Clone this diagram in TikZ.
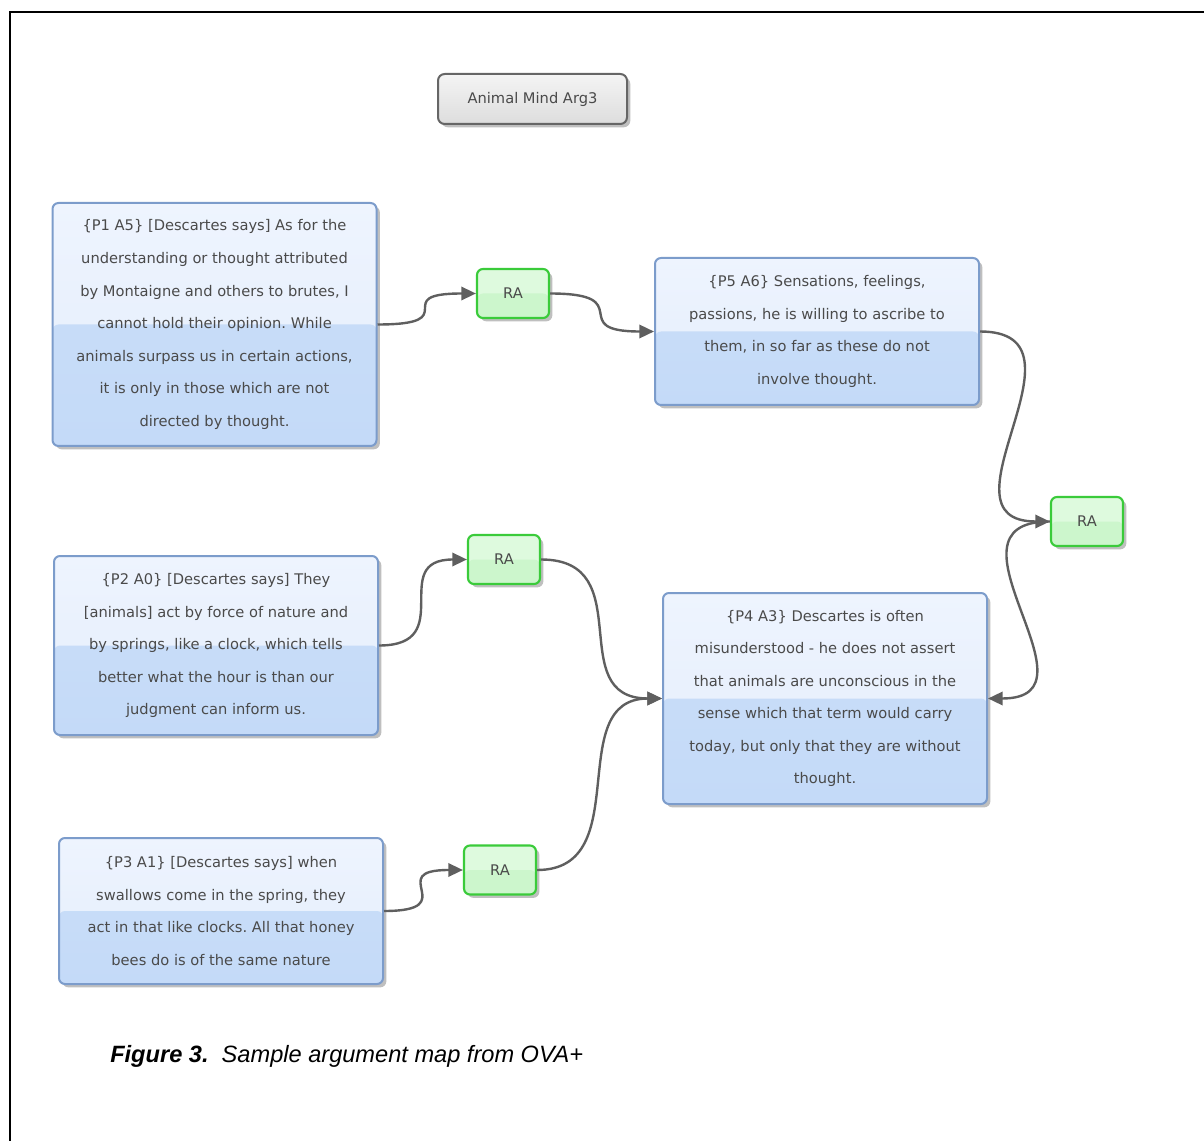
\documentclass[tikz,border=0pt]{standalone}
\usepackage{fontspec}
\usepackage{tikz}
\usetikzlibrary{
  positioning,
  calc,
  arrows.meta,
  shadows
}
\newfontfamily\ovafont{DejaVu Sans}
\newfontfamily\capfont{Liberation Sans}
\frenchspacing

\definecolor{propline}{HTML}{7C9CCB}
\definecolor{proptop}{HTML}{EEF4FE}
\definecolor{propmid}{HTML}{E3EDFC}
\definecolor{proplow}{HTML}{CBDFF9}
\definecolor{propbot}{HTML}{C4DAF8}
\definecolor{raline}{HTML}{3ACB3A}
\definecolor{ratop}{HTML}{DEFADE}
\definecolor{ralow}{HTML}{CCF6CC}
\definecolor{titleline}{HTML}{666666}
\definecolor{titletop}{HTML}{F4F4F4}
\definecolor{titlelow}{HTML}{DDDDDD}
\definecolor{linkcol}{HTML}{5F5F5F}
\definecolor{textcol}{HTML}{4A4A4A}

\tikzstyle{ovashadow}=[drop shadow={shadow xshift=2.5pt, shadow yshift=-2.5pt, opacity=0.25, fill=black}]
\tikzstyle{propbox}=[draw=propline, line width=1.5pt, rounded corners=4.5pt,
  top color=proptop, bottom color=propmid, ovashadow,
  path picture={\shade[top color=proplow, bottom color=propbot]
    (path picture bounding box.west) rectangle (path picture bounding box.south east);},
  text=textcol, align=center, inner sep=0pt,
  font=\ovafont\fontsize{11}{24.4}\selectfont, minimum width=243pt]
\tikzstyle{rabox}=[draw=raline, line width=1.6pt, rounded corners=4.5pt,
  fill=ratop, ovashadow,
  path picture={\fill[ralow]
    (path picture bounding box.west) rectangle (path picture bounding box.south east);},
  text=textcol, font=\ovafont\fontsize{11}{12}\selectfont,
  minimum width=54pt, minimum height=36.75pt, inner sep=0pt]
\tikzstyle{titlebox}=[draw=titleline, line width=1.5pt, rounded corners=5pt,
  top color=titletop, bottom color=titlelow, ovashadow,
  text=textcol, font=\ovafont\fontsize{11}{12}\selectfont,
  minimum width=141.75pt, minimum height=37.5pt, inner sep=0pt]
\tikzstyle{link}=[-{Triangle[length=11pt,width=10pt]}, draw=linkcol, line width=1.8pt]

\begin{document}
\begin{tikzpicture}[x=0.75pt, y=-0.75pt]
  % page size and frame
  \useasboundingbox (0,0) rectangle (1204,1141);
  \draw[line width=2pt] (10,1141) -- (10,12) -- (1204,12);

  % title
  \node[titlebox] (title) at (532.5,99) {Animal Mind Arg3};

  % propositions
  \node[propbox, minimum height=182.25pt] (p1) at (214.5,324.5)
    {\{P1 A5\} [Descartes says] As for the\\
     understanding or thought attributed\\
     by Montaigne and others to brutes, I\\
     cannot hold their opinion. While\\
     animals surpass us in certain actions,\\
     it is only in those which are not\\
     directed by thought.};
  \node[propbox, minimum height=110.25pt] (p5) at (817,331.5)
    {\{P5 A6\} Sensations, feelings,\\
     passions, he is willing to ascribe to\\
     them, in so far as these do not\\
     involve thought.};
  \node[propbox, minimum height=134.25pt] (p2) at (216,645.5)
    {\{P2 A0\} [Descartes says] They\\
     {[animals]} act by force of nature and\\
     by springs, like a clock, which tells\\
     better what the hour is than our\\
     judgment can inform us.};
  \node[propbox, minimum height=158.25pt] (p4) at (825,698.5)
    {\{P4 A3\} Descartes is often\\
     misunderstood - he does not assert\\
     that animals are unconscious in the\\
     sense which that term would carry\\
     today, but only that they are without\\
     thought.};
  \node[propbox, minimum height=109.5pt] (p3) at (221,911)
    {\{P3 A1\} [Descartes says] when\\
     swallows come in the spring, they\\
     act in that like clocks. All that honey\\
     bees do is of the same nature};

  % inference nodes
  \node[rabox] (ra1) at (513,293.5) {RA};
  \node[rabox] (ra2) at (504,559.5) {RA};
  \node[rabox] (ra3) at (500,870) {RA};
  \node[rabox] (ra4) at (1087,521.5) {RA};

  % connectors
  \draw[link] (p1.east) .. controls +(90,0) and +(-90,0) .. (ra1.west);
  \draw[link] (ra1.east) .. controls +(90,0) and +(-90,0) .. (p5.west);
  \draw[link] (p2.east) .. controls +(80,0) and +(-80,0) .. (ra2.west);
  \draw[link] (ra2.east) .. controls +(100,0) and +(-100,0) .. (p4.west);
  \draw[link] (p3.east) .. controls +(80,0) and +(-80,0) .. (ra3.west);
  \draw[link] (ra3.east) .. controls +(100,0) and +(-100,0) .. (p4.west);
  \draw[link] (p5.east) .. controls +(120,0) and +(-120,0) .. (ra4.west);
  \draw[link] (ra4.west) .. controls +(-120,0) and +(120,0) .. (p4.east);

  % caption
  \node[anchor=base west, font=\capfont\fontsize{17.7}{20}\selectfont, inner sep=0pt]
    (caption) at (110,1062) {\textbf{\textit{Figure 3.}}\ \ \textit{Sample argument map from OVA+}};
\end{tikzpicture}
\end{document}
